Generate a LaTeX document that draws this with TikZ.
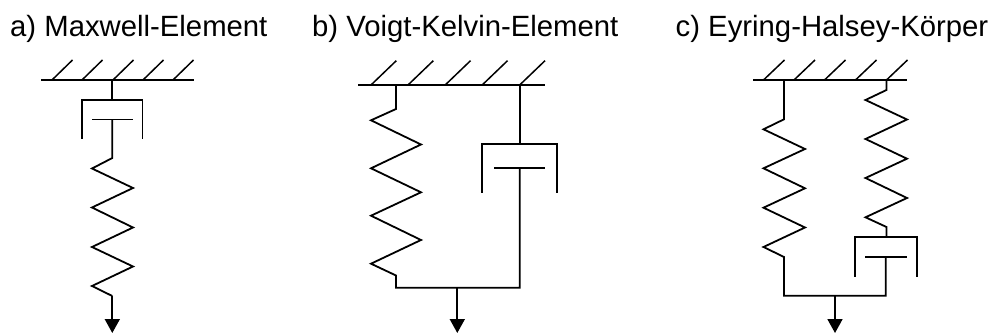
\documentclass[tikz,border=0pt]{standalone}
\usepackage{fontspec}
\setmainfont{Liberation Sans}
\usetikzlibrary{arrows.meta}
\tikzset{
  line/.style={line width=1.8pt,line cap=butt,line join=miter,black},
  hatch/.style={line width=1.5pt,black},
  output/.style={line width=1.8pt,black,-{Triangle[length=14pt,width=15pt]}},
  title/.style={anchor=base west,inner sep=0pt,font=\fontsize{29.3pt}{34pt}\selectfont}
}
\begin{document}
\begin{tikzpicture}[x=1pt,y=-1pt]
\useasboundingbox (0,0) rectangle (994,334);
\node[title] (ta) at (10,36.7) {a) Maxwell-Element};
\node[title] (tb) at (312,36.7) {b) Voigt-Kelvin-Element};
\node[title] (tc) at (675.5,36.7) {c) Eyring-Halsey-Körper};
% a
\draw[line] (41,80) -- (193.5,80);
\foreach \x in {52,82,113,143,173} \draw[hatch] (\x,80) -- ++(20.5,-20);
\coordinate (aout) at (112.3,333);
\draw[line] (112.3,80) -- (112.3,100);
\draw[line] (82,139) -- (82,100) -- (142.5,100) -- (142.5,139);
\draw[line] (92,119.5) -- (133,119.5);
\draw[line] (112.3,119.5) -- (112.3,158) -- (92,168.5) -- (133,188) -- (92,207.5) -- (133,227.5) -- (92,247) -- (133,266.5) -- (92,286) -- (112.3,296);
\coordinate (ajoin) at (112.3,296);
\draw[output] (ajoin) -- (aout);
% b
\draw[line] (358,84.7) -- (545,84.7);
\foreach \x in {371.3,408.3,445.5,482.5,520} \draw[hatch] (\x,84.7) -- ++(25,-24);
\coordinate (bout) at (457.3,333);
\coordinate (bjoin) at (457.3,287.7);
\draw[line] (396,84.7) -- (396,109) -- (371,120.3) -- (421,144.5) -- (371,168.3) -- (421,192.3) -- (371,215.7) -- (421,240) -- (371,263.7) -- (396,275.5) -- (396,287.7) -- (519.7,287.7) -- (519.7,168.3);
\draw[line] (494,168.3) -- (544.7,168.3);
\draw[line] (519.7,84.7) -- (519.7,144.3);
\draw[line] (482.3,193) -- (482.3,144.3) -- (556.7,144.3) -- (556.7,193);
\draw[output] (bjoin) -- (bout);
% c
\draw[line] (753,80) -- (907.3,80);
\foreach \x in {763.5,794,824.5,855.5,886.5} \draw[hatch] (\x,80) -- ++(21,-20);
\coordinate (cout) at (835,333);
\coordinate (cjoin) at (835,295.7);
\draw[line] (784,80) -- (784,119.3) -- (763.5,129.3) -- (805,149) -- (763.5,168.3) -- (805,188.3) -- (763.5,207.7) -- (805,227.5) -- (763.5,247) -- (784,257) -- (784,295.7) -- (885.7,295.7) -- (885.7,256.7);
\draw[line] (865.3,256.7) -- (907,256.7);
\draw[line] (855.3,276.7) -- (855.3,237) -- (916.7,237) -- (916.7,276.7);
\draw[line] (886.5,80) -- (886.5,90) -- (865.5,100) -- (907,119.5) -- (865.5,139) -- (907,158.7) -- (865.5,178) -- (907,198) -- (865.5,217.3) -- (886.5,227) -- (886.5,237);
\draw[output] (cjoin) -- (cout);
\end{tikzpicture}
\end{document}
